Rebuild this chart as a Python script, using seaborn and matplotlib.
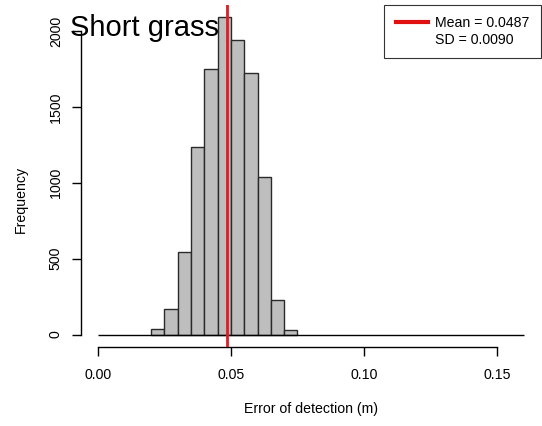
import numpy as np
import matplotlib
matplotlib.use("Agg")
import matplotlib.pyplot as plt
from matplotlib.lines import Line2D
import seaborn as sns

# Histogram bins (m) and counts per bin
bin_edges = [0.020, 0.025, 0.030, 0.035, 0.040, 0.045, 0.050, 0.055, 0.060, 0.065, 0.070, 0.075]
counts = [34, 170, 544, 1236, 1748, 2091, 1939, 1724, 1036, 225, 28]
mean_err = 0.0487
sd_err = 0.0090

x_ticks = [0.00, 0.05, 0.10, 0.15]
y_ticks = [0, 500, 1000, 1500, 2000]
title = "Short grass"
x_label = "Error of detection (m)"
y_label = "Frequency"

plt.rcParams["font.family"] = ["Liberation Sans", "DejaVu Sans"]

W, H = 542, 426
centers = [(a + b) / 2 for a, b in zip(bin_edges[:-1], bin_edges[1:])]

fig = plt.figure(figsize=(W / 100, H / 100), dpi=100)
left_px, right_px, top_px, bottom_px = 80.6, 541.0, 4.6, 347.2
ax = fig.add_axes([left_px / W, (H - bottom_px) / H,
                   (right_px - left_px) / W, (bottom_px - top_px) / H])

sns.histplot(x=centers, weights=counts, bins=bin_edges, color="#bebebe",
             edgecolor="#2a2a2a", linewidth=1.0, alpha=1, ax=ax)

# baseline along the x range
ax.hlines(0, 0, 0.16, color="black", lw=1.0, zorder=1)

# mean marker
ax.axvline(mean_err, color="#c8262b", lw=2, zorder=5)

xmin, xmax = 0.0, 0.16
xr = (xmax - xmin) * 0.04
ax.set_xlim(xmin - xr, xmax + xr)
ymax = max(counts)
yr = ymax * 0.04
ax.set_ylim(-yr, ymax + yr)

for s in ["top", "right"]:
    ax.spines[s].set_visible(False)
ax.spines["left"].set_bounds(0, 2000)
ax.spines["bottom"].set_bounds(0.0, 0.15)
ax.spines["left"].set_linewidth(1.0)
ax.spines["bottom"].set_linewidth(1.0)

fs = 10.2
ax.set_xticks(x_ticks)
ax.set_xticklabels([f"{v:.2f}" for v in x_ticks])
ax.set_yticks(y_ticks)
ax.set_yticklabels([str(v) for v in y_ticks], rotation=90, va="center")
ax.tick_params(axis="both", direction="out", length=6.2, width=1.0,
               labelsize=fs, colors="black")
ax.tick_params(axis="x", pad=9)
ax.tick_params(axis="y", pad=6.6)

ax.set_xlabel(x_label, fontsize=fs)
ax.set_ylabel(y_label, fontsize=fs)
ax.xaxis.set_label_coords(0.5, (bottom_px - 409.5) / (bottom_px - top_px), transform=ax.transAxes)
ax.xaxis.label.set_va("center")
ax.yaxis.set_label_coords((20.5 - left_px) / (right_px - left_px),
                          (bottom_px - 199) / (bottom_px - top_px))
ax.yaxis.label.set_va("center")

fig.text(70 / W, (H - 36) / H, title, fontsize=21, ha="left", va="baseline")

handles = [Line2D([], [], color="#e01010", lw=3.0),
           Line2D([], [], color="none", lw=0)]
leg = ax.legend(handles, [f"Mean = {mean_err:.4f}", f"SD = {sd_err:.4f}"],
                loc="upper right", borderaxespad=0, fontsize=fs,
                frameon=True, fancybox=False, edgecolor="black",
                handlelength=2.3, handletextpad=0.5, labelspacing=0.22,
                borderpad=0.8)
leg.get_frame().set_linewidth(0.8)

fig.savefig("out.png", dpi=100, facecolor="white")
